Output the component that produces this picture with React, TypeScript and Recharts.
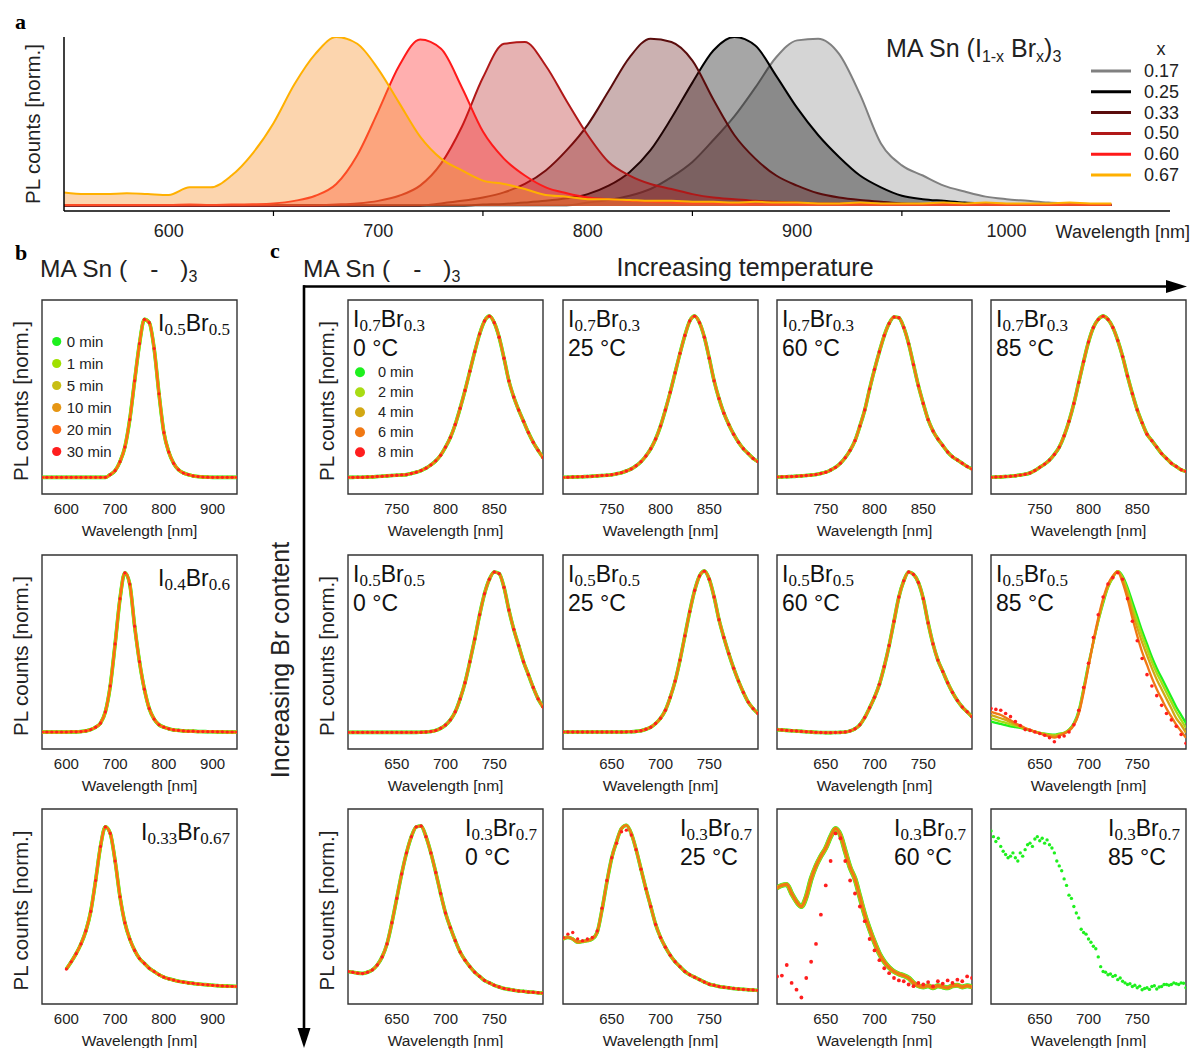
import React from "react";
import { AreaChart, Area, LineChart, Line, XAxis, YAxis, ReferenceArea } from "recharts";

const SANS = '"Liberation Sans", Arial, Helvetica, sans-serif';
const SERIF = '"Liberation Serif", "Times New Roman", serif';

// ---- panel a: MA Sn (I1-x Brx)3 spectra
const wlA = [550, 560, 570, 580, 590, 600, 610, 620, 630, 640, 650, 660, 670, 680, 690, 700, 710, 720, 730, 740, 750, 760, 770, 780, 790, 800, 810, 820, 830, 840, 850, 860, 870, 880, 890, 900, 910, 920, 930, 940, 950, 960, 970, 980, 990, 1000, 1010, 1020, 1030, 1040, 1050];
const xLabels = ["0.17", "0.25", "0.33", "0.50", "0.60", "0.67"];
const a017 = [.003, .003, .003, .003, .003, .003, .003, .003, .003, .003, .003, .003, .003, .003, .003, .003, .003, .003, .003, .003, .003, .003, .003, .003, .003, .02, .035, .06, .10, .17, .26, .39, .53, .70, .88, .98, .99, .90, .66, .37, .24, .18, .12, .085, .055, .04, .03, .02, .015, .01, .01];
const a025 = [.003, .003, .003, .003, .003, .003, .003, .003, .003, .003, .003, .003, .003, .003, .003, .003, .003, .003, .003, .003, .008, .012, .02, .03, .045, .07, .12, .20, .33, .52, .73, .92, 1.0, .95, .77, .58, .42, .29, .18, .11, .06, .04, .03, .02, .015, .01, .008, .007, .006, .005, .005];
const a033 = [.003, .003, .003, .003, .003, .003, .003, .003, .003, .003, .003, .003, .003, .003, .003, .003, .003, .003, .015, .03, .05, .08, .13, .21, .33, .48, .68, .88, .99, .97, .86, .63, .42, .28, .18, .12, .075, .05, .035, .025, .015, .012, .01, .008, .007, .006, .005, .005, .005, .005, .005];
const a050 = [.003, .003, .003, .003, .003, .003, .003, .003, .003, .003, .003, .003, .003, .008, .015, .03, .06, .12, .25, .47, .76, .96, .97, .83, .62, .42, .26, .18, .13, .10, .07, .05, .04, .03, .025, .02, .015, .015, .012, .01, .01, .008, .008, .006, .006, .005, .005, .005, .005, .005, .005];
const a060 = [.005, .005, .005, .005, .005, .005, .008, .005, .008, .01, .015, .03, .06, .13, .30, .56, .83, .985, .93, .70, .44, .28, .18, .11, .075, .05, .04, .03, .025, .02, .015, .015, .01, .01, .01, .01, .008, .008, .01, .008, .008, .008, .01, .008, .01, .008, .008, .008, .01, .008, .008];
const a067 = [.08, .07, .07, .075, .07, .065, .11, .11, .18, .31, .49, .72, .90, 1.0, .96, .81, .61, .41, .28, .21, .15, .13, .10, .065, .055, .04, .04, .035, .03, .03, .025, .025, .02, .025, .02, .02, .015, .015, .02, .015, .015, .015, .02, .015, .02, .015, .015, .015, .02, .015, .015];

const aLine = ["#808080", "#000000", "#5a0c0c", "#b01818", "#ff1a1a", "#ffb000"];
const aFill = ["#808080", "#000000", "#5c0b0b", "#b01010", "#ff1a1a", "#f79634"];
const aOpacity = [0.33, 0.35, 0.32, 0.32, 0.35, 0.4];
const aSeries = [a017, a025, a033, a050, a060, a067];
const aTicks = [600, 650, 700, 750, 800, 850, 900, 950, 1000];

// ---- panel b: time series at room temperature
const wlB = [550, 560, 570, 580, 590, 600, 610, 620, 630, 640, 650, 660, 670, 680, 690, 700, 710, 720, 730, 740, 750, 760, 770, 780, 790, 800, 810, 820, 830, 840, 850, 860, 870, 880, 890, 900, 910, 920, 930, 940, 950];
const bTicks = [600, 700, 800, 900];
const bTimes = ["0 min", "1 min", "5 min", "10 min", "20 min", "30 min"];
const bColors = ["#1ef01e", "#a0e000", "#c8be14", "#e69614", "#ff6a14", "#ff1e1e"];
const b05 = [.003, .003, .003, .003, .003, .003, .003, .003, .003, .003, .003, .003, .003, .003, .02, .045, .10, .19, .36, .60, .83, .98, .96, .80, .52, .28, .16, .09, .05, .03, .02, .012, .008, .005, .004, .003, .003, .003, .003, .003, .003];
const b06 = [.005, .005, .005, .005, .005, .005, .006, .006, .008, .012, .02, .035, .06, .13, .29, .55, .83, .99, .92, .66, .44, .27, .15, .085, .05, .035, .025, .018, .015, .012, .01, .01, .008, .008, .007, .007, .006, .006, .005, .005, .005];
const b067 = [null, null, null, null, null, .115, .16, .21, .27, .35, .47, .66, .87, .99, .95, .78, .56, .40, .30, .23, .18, .15, .12, .10, .08, .065, .055, .047, .04, .035, .03, .027, .023, .02, .018, .015, .013, .011, .01, .009, .008];

// ---- panel c: temperature / composition grid
const wlC1 = [700, 705, 710, 715, 720, 725, 730, 735, 740, 745, 750, 755, 760, 765, 770, 775, 780, 785, 790, 795, 800, 805, 810, 815, 820, 825, 830, 835, 840, 845, 850, 855, 860, 865, 870, 875, 880, 885, 890, 895, 900];
const wlC2 = [600, 605, 610, 615, 620, 625, 630, 635, 640, 645, 650, 655, 660, 665, 670, 675, 680, 685, 690, 695, 700, 705, 710, 715, 720, 725, 730, 735, 740, 745, 750, 755, 760, 765, 770, 775, 780, 785, 790, 795, 800];
const wlC2f = [600, 602.5, 605, 607.5, 610, 612.5, 615, 617.5, 620, 622.5, 625, 627.5, 630, 632.5, 635, 637.5, 640, 642.5, 645, 647.5, 650, 652.5, 655, 657.5, 660, 662.5, 665, 667.5, 670, 672.5, 675, 677.5, 680, 682.5, 685, 687.5, 690, 692.5, 695, 697.5, 700, 702.5, 705, 707.5, 710, 712.5, 715, 717.5, 720, 722.5, 725, 727.5, 730, 732.5, 735, 737.5, 740, 742.5, 745, 747.5, 750, 752.5, 755, 757.5, 760, 762.5, 765, 767.5, 770, 772.5, 775, 777.5, 780, 782.5, 785, 787.5, 790, 792.5, 795, 797.5, 800];
const c1Ticks = [750, 800, 850];
const c2Ticks = [650, 700, 750];
const temps = ["0 °C", "25 °C", "60 °C", "85 °C"];
const cTimes = ["0 min", "2 min", "4 min", "6 min", "8 min"];
const cColors = ["#1ef01e", "#a8dc14", "#d2a814", "#f07814", "#ff1e1e"];

// I0.7Br0.3
const c11 = [.003, .003, .004, .004, .005, .006, .008, .01, .012, .014, .016, .018, .02, .027, .035, .045, .06, .08, .105, .14, .19, .25, .33, .43, .54, .66, .78, .89, .97, 1.0, .96, .87, .74, .60, .50, .42, .35, .28, .22, .17, .125];
const c12 = [.003, .004, .005, .006, .007, .008, .01, .012, .014, .016, .019, .025, .032, .042, .055, .075, .10, .135, .18, .24, .32, .42, .53, .65, .77, .88, .97, 1.0, .96, .87, .74, .60, .49, .40, .33, .27, .22, .18, .15, .12, .10];
const c13 = [.005, .006, .007, .008, .01, .012, .014, .017, .021, .027, .035, .048, .065, .09, .125, .17, .23, .32, .42, .55, .67, .78, .88, .955, .995, .99, .93, .83, .70, .57, .46, .36, .29, .24, .20, .16, .13, .11, .09, .07, .055];
const c14 = [.004, .005, .006, .008, .01, .013, .017, .022, .03, .045, .065, .085, .11, .145, .19, .26, .35, .46, .59, .72, .84, .93, .98, 1.0, .98, .93, .85, .75, .63, .52, .42, .34, .27, .23, .19, .15, .12, .09, .07, .05, .04];
// I0.5Br0.5
const c21 = [.003, .003, .003, .003, .003, .003, .003, .003, .003, .003, .003, .003, .003, .003, .003, .004, .005, .008, .015, .028, .048, .08, .13, .21, .31, .44, .58, .73, .86, .95, .995, .985, .90, .76, .64, .54, .44, .36, .28, .21, .16];
const c22 = [.005, .005, .005, .005, .005, .005, .005, .005, .005, .005, .005, .005, .005, .006, .007, .009, .013, .022, .035, .058, .09, .14, .22, .32, .45, .60, .75, .88, .97, 1.0, .95, .84, .70, .59, .49, .40, .32, .25, .19, .15, .12];
const c23 = [.02, .018, .015, .013, .011, .009, .007, .005, .003, .002, .001, .001, .002, .003, .005, .012, .025, .05, .095, .155, .22, .30, .41, .54, .69, .84, .94, .995, .98, .93, .83, .68, .55, .45, .38, .31, .25, .20, .16, .13, .10];
const c24t0 = [.07, .062, .055, .048, .04, .035, .03, .022, .015, .008, 0, -.005, -.01, -.012, -.005, 0, .02, .06, .14, .28, .43, .56, .69, .80, .90, .96, 1.0, .97, .90, .81, .72, .63, .55, .47, .40, .34, .28, .22, .16, .11, .06];
const c24t2 = [.09, .08, .07, .062, .052, .044, .035, .025, .016, .008, 0, -.006, -.012, -.016, -.008, 0, .018, .055, .13, .27, .42, .56, .69, .81, .90, .96, 1.0, .96, .88, .78, .69, .60, .52, .44, .37, .31, .25, .19, .13, .08, .03];
const c24t4 = [.11, .10, .09, .08, .065, .052, .04, .028, .018, .008, -.002, -.01, -.016, -.02, -.012, -.002, .016, .05, .12, .26, .41, .56, .70, .82, .91, .97, 1.0, .95, .86, .75, .65, .56, .48, .40, .33, .27, .21, .15, .09, .05, 0];
const c24t6 = [.13, .12, .11, .095, .078, .06, .045, .03, .018, .006, -.004, -.014, -.022, -.03, -.018, -.004, .012, .048, .12, .25, .41, .57, .71, .83, .92, .97, .995, .93, .83, .71, .60, .50, .42, .34, .27, .21, .15, .10, .05, .01, -.03];
const c24t8 = [.15, .145, .14, .12, .10, .07, .045, .02, .015, .005, -.004, -.015, -.03, -.055, -.025, -.02, .005, .05, .14, .28, .43, .59, .73, .84, .92, .96, .99, .95, .83, .69, .57, .46, .36, .29, .23, .17, .12, .08, .04, -.01, -.065];
// I0.3Br0.7
const c31 = [.10, .095, .09, .088, .095, .11, .14, .19, .27, .40, .55, .70, .83, .93, .99, .995, .93, .83, .71, .58, .46, .37, .29, .22, .17, .13, .095, .07, .045, .03, .015, .005, -.005, -.01, -.015, -.02, -.022, -.026, -.028, -.031, -.033];
const c32 = [.30, .31, .30, .28, .285, .29, .30, .34, .48, .65, .80, .90, .98, 1.0, .95, .85, .73, .61, .50, .39, .31, .25, .20, .16, .13, .10, .08, .065, .05, .035, .022, .015, .008, .003, 0, -.005, -.008, -.01, -.012, -.014, -.016];
const c32r = [.31, .33, .34, .30, .29, .30, .31, .35, .49, .66, .80, .89, .96, .97, .94, .85, .73, .61, .50, .39, .31, .25, .20, .16, .13, .10, .08, .065, .05, .035, .022, .015, .008, .003, 0, -.005, -.008, -.01, -.012, -.014, -.016];
const c33 = [.615, .63, .636, .58, .53, .50, .56, .67, .75, .81, .86, .93, .98, .94, .84, .74, .67, .56, .45, .36, .28, .21, .16, .125, .10, .085, .075, .06, .03, .012, .005, .012, 0, .012, .005, 0, .012, .015, .005, .012, .005];
const c33r = [.07, .075, .14, .03, -.012, -.06, .06, .16, .27, .45, .63, .78, .95, .92, .78, .66, .58, .50, .41, .30, .23, .17, .12, .09, .06, .045, .04, .02, .01, .03, .02, .035, .01, .04, .025, .045, .03, .05, .04, .07, .06];
const c34g = [.965, .93, .90, .92, .87, .84, .82, .80, .81, .83, .80, .78, .83, .81, .85, .88, .89, .87, .915, .93, .905, .92, .89, .91, .88, .86, .83, .78, .75, .72, .67, .63, .57, .55, .50, .46, .43, .36, .34, .33, .30, .28, .255, .24, .19, .13, .10, .095, .08, .085, .07, .075, .05, .06, .04, .03, .02, .025, .008, .015, 0, .01, -.012, -.005, 0, -.01, .008, .012, -.008, .005, .008, .02, .02, .015, .02, .03, .025, .02, .03, .028, 0];

type S = { vals: (number | null)[]; color: string; w: number; r: number };

const bW = [3.6, 3.2, 2.8, 2.4, 2.0, 0];
const bR = [0, 0, 0, 0, 0, 1.6];
const cW = [3.6, 3.1, 2.6, 2.1, 0];
const cR = [0, 0, 0, 0, 1.7];

const stackB = (v: (number | null)[]): S[] => bColors.map((c, i) => ({ vals: v, color: c, w: bW[i], r: bR[i] }));
const stackC = (v: (number | null)[], red?: (number | null)[]): S[] =>
  cColors.map((c, i) => ({ vals: i === 4 && red ? red : v, color: c, w: cW[i], r: cR[i] }));

function Spec({ left, top, h, wl, domain, ticks, series }: { left: number; top: number; h: number; wl: number[]; domain: [number, number]; ticks: number[]; series: S[] }) {
  const data = wl.map((w, i) => {
    const r: any = { w };
    series.forEach((s, k) => (r["s" + k] = s.vals[i]));
    return r;
  });
  return (
    <div style={{ position: "absolute", left: left - 2, top: top - 2 }}>
      <LineChart width={199} height={h + 48} data={data} margin={{ top: 2, right: 2, bottom: 0, left: 2 }}>
        <XAxis
          dataKey="w"
          type="number"
          domain={domain}
          ticks={ticks}
          allowDataOverflow
          tickLine={false}
          axisLine={false}
          height={46}
          tickMargin={3}
          tick={{ fontSize: 15, fill: "#222" }}
          label={{ value: "Wavelength [nm]", position: "insideBottom", offset: 4, fontSize: 15.5, fill: "#222" }}
        />
        <YAxis hide type="number" domain={[-0.1, 1.1]} allowDataOverflow />
        {series.map((s, k) => (
          <Line
            key={k}
            dataKey={"s" + k}
            type="monotone"
            stroke={s.w ? s.color : "none"}
            strokeWidth={s.w || 0}
            dot={s.r ? { r: s.r, fill: s.color, stroke: "none" } : false}
            activeDot={false}
            isAnimationActive={false}
          />
        ))}
        <ReferenceArea x1={domain[0]} x2={domain[1]} y1={-0.1} y2={1.1} fill="none" stroke="#333" strokeWidth={1.4} ifOverflow="visible" />
      </LineChart>
    </div>
  );
}

function Comp({ x, y, a, b, anchor = "start" }: { x: number; y: number; a: string; b: string; anchor?: string }) {
  return (
    <text x={x} y={y} textAnchor={anchor as any} fontSize={23} fill="#111">
      I<tspan fontFamily={SERIF} fontSize={17} dy={4}>{a}</tspan>
      <tspan dy={-4}>Br</tspan>
      <tspan fontFamily={SERIF} fontSize={17} dy={4}>{b}</tspan>
    </text>
  );
}

const aTick = (p: any) => {
  const v = p.payload.value;
  if (v % 100 === 0)
    return (
      <text x={p.x} y={p.y + 26} textAnchor="middle" fontSize={18} fill="#222">
        {v}
      </text>
    );
  return <line x1={p.x} x2={p.x} y1={p.y} y2={p.y + 5} stroke="#000" strokeWidth={1.2} />;
};

const bLeft = 42;
const rowTop = [300, 555, 809];
const rowH = [194, 194, 195];
const cLeft = [348, 563, 777, 991];

export default function App() {
  const aRows = wlA.map((w, i) => {
    const r: any = { w };
    aSeries.forEach((s, k) => (r["s" + k] = s[i]));
    return r;
  });

  const cRow1 = [c11, c12, c13, c14];
  const cRow2: S[][] = [
    stackC(c21),
    stackC(c22),
    stackC(c23),
    [c24t0, c24t2, c24t4, c24t6, c24t8].map((v, i) => ({ vals: v, color: cColors[i], w: i < 4 ? 2.3 : 0, r: i === 4 ? 1.8 : 0 })),
  ];
  const cRow3: S[][] = [
    stackC(c31),
    stackC(c32, c32r),
    [
      { vals: c33, color: cColors[0], w: 5, r: 0 },
      { vals: c33, color: cColors[1], w: 4.2, r: 0 },
      { vals: c33, color: cColors[2], w: 3.4, r: 0 },
      { vals: c33, color: cColors[3], w: 2.6, r: 1.6 },
      { vals: c33r, color: cColors[4], w: 0, r: 1.9 },
    ],
  ];
  const bPanels = [b05, b06, b067];
  const bComp = [["0.5", "0.5"], ["0.4", "0.6"], ["0.33", "0.67"]];
  const rowComp = [["0.7", "0.3"], ["0.5", "0.5"], ["0.3", "0.7"]];

  return (
    <div style={{ position: "absolute", left: 0, top: 0, width: 1193, height: 1048, background: "#fff", fontFamily: SANS, color: "#222" }}>
      <div style={{ position: "absolute", left: 0, top: 0 }}>
        <AreaChart width={1193} height={250} data={aRows} margin={{ top: 37, right: 23, bottom: 0, left: 54 }}>
          <XAxis
            dataKey="w"
            type="number"
            domain={[550, 1078]}
            ticks={aTicks}
            allowDataOverflow
            height={39}
            tickLine={false}
            tickSize={0}
            tickMargin={0}
            tick={aTick}
            axisLine={{ stroke: "#000", strokeWidth: 1.5 }}
          />
          <YAxis width={10} type="number" domain={[-0.03, 1]} allowDataOverflow tick={false} tickLine={false} axisLine={{ stroke: "#000", strokeWidth: 1.5 }} />
          {aSeries.map((_, k) => (
            <Area
              key={k}
              dataKey={"s" + k}
              type="monotone"
              stroke={aLine[k]}
              strokeWidth={2}
              fill={aFill[k]}
              fillOpacity={aOpacity[k]}
              dot={false}
              activeDot={false}
              isAnimationActive={false}
            />
          ))}
        </AreaChart>
      </div>

      {bPanels.map((v, i) => (
        <Spec key={"b" + i} left={bLeft} top={rowTop[i]} h={rowH[i]} wl={wlB} domain={[550, 950]} ticks={bTicks} series={stackB(v)} />
      ))}

      {cRow1.map((v, j) => (
        <Spec key={"c1" + j} left={cLeft[j]} top={rowTop[0]} h={rowH[0]} wl={wlC1} domain={[700, 900]} ticks={c1Ticks} series={stackC(v)} />
      ))}
      {cRow2.map((s, j) => (
        <Spec key={"c2" + j} left={cLeft[j]} top={rowTop[1]} h={rowH[1]} wl={wlC2} domain={[600, 800]} ticks={c2Ticks} series={s} />
      ))}
      {cRow3.map((s, j) => (
        <Spec key={"c3" + j} left={cLeft[j]} top={rowTop[2]} h={rowH[2]} wl={wlC2} domain={[600, 800]} ticks={c2Ticks} series={s} />
      ))}
      <Spec left={cLeft[3]} top={rowTop[2]} h={rowH[2]} wl={wlC2f} domain={[600, 800]} ticks={c2Ticks} series={[{ vals: c34g, color: cColors[0], w: 0, r: 1.7 }]} />

      <svg width={1193} height={1048} style={{ position: "absolute", left: 0, top: 0, pointerEvents: "none", whiteSpace: "pre" }}>
        {/* panel letters */}
        <text x={15} y={29} fontFamily={SERIF} fontWeight="bold" fontSize={22} fill="#000">a</text>
        <text x={15} y={260} fontFamily={SERIF} fontWeight="bold" fontSize={22} fill="#000">b</text>
        <text x={270} y={258} fontFamily={SERIF} fontWeight="bold" fontSize={22} fill="#000">c</text>

        {/* panel a labels */}
        <text transform="translate(40,124) rotate(-90)" textAnchor="middle" fontSize={20.5} fill="#222">PL counts [norm.]</text>
        <text x={1190} y={237.5} textAnchor="end" fontSize={18} fill="#222">Wavelength [nm]</text>
        <text x={886} y={57} fontSize={25} fill="#222">
          MA Sn (I<tspan fontSize={16} dy={5}>1-x</tspan>
          <tspan dy={-5}> Br</tspan>
          <tspan fontSize={16} dy={5}>x</tspan>
          <tspan dy={-5}>)</tspan>
          <tspan fontSize={16} dy={5}>3</tspan>
        </text>
        <text x={1161} y={55} textAnchor="middle" fontSize={18} fill="#222">x</text>
        {xLabels.map((l, i) => (
          <g key={l}>
            <line x1={1091} x2={1131} y1={71 + 20.8 * i} y2={71 + 20.8 * i} stroke={aLine[i]} strokeWidth={3} />
            <text x={1144} y={71 + 20.8 * i} dominantBaseline="central" fontSize={18} fill="#222">{l}</text>
          </g>
        ))}

        {/* panel b / c titles */}
        {[40, 303].map((x) => (
          <text key={x} x={x} y={277} fontSize={24.5} fill="#222">
            MA Sn (<tspan dx={23}>-</tspan>
            <tspan dx={22}>)</tspan>
            <tspan fontSize={16} dy={5}>3</tspan>
          </text>
        ))}
        <text x={745} y={276} textAnchor="middle" fontSize={25} fill="#222">Increasing temperature</text>
        <text transform="translate(289,660) rotate(-90)" textAnchor="middle" fontSize={25} fill="#222">Increasing Br content</text>

        {/* arrows */}
        <line x1={303} y1={286.5} x2={1170} y2={286.5} stroke="#000" strokeWidth={2.6} />
        <polygon points="1166,280 1187,286.5 1166,293" fill="#000" />
        <line x1={304} y1={285.2} x2={304} y2={1032} stroke="#000" strokeWidth={2.6} />
        <polygon points="297.5,1028 304,1048 310.5,1028" fill="#000" />

        {/* y labels */}
        {rowTop.map((t, i) => (
          <g key={"yl" + i}>
            <text transform={`translate(28,${t + rowH[i] / 2 + 4}) rotate(-90)`} textAnchor="middle" fontSize={20.5} fill="#222">PL counts [norm.]</text>
            <text transform={`translate(334,${t + rowH[i] / 2 + 4}) rotate(-90)`} textAnchor="middle" fontSize={20.5} fill="#222">PL counts [norm.]</text>
          </g>
        ))}

        {/* b compositions + legend */}
        {bComp.map((c, i) => (
          <Comp key={"bc" + i} x={bLeft + 188} y={rowTop[i] + 31} a={c[0]} b={c[1]} anchor="end" />
        ))}
        {bTimes.map((t, i) => (
          <g key={t}>
            <circle cx={56.7} cy={341.5 + 22 * i} r={4.6} fill={bColors[i]} />
            <text x={66.7} y={341.5 + 22 * i} dominantBaseline="central" fontSize={15} fill="#222">{t}</text>
          </g>
        ))}

        {/* c compositions / temperatures */}
        {rowComp.map((c, i) =>
          cLeft.map((l, j) => {
            const x = i === 2 ? l + 117 : l + 5;
            return (
              <g key={"cc" + i + j}>
                <Comp x={x} y={rowTop[i] + 27} a={c[0]} b={c[1]} />
                <text x={x} y={rowTop[i] + 56} fontSize={23} fill="#111">{temps[j]}</text>
              </g>
            );
          })
        )}
        {cTimes.map((t, i) => (
          <g key={"ct" + t}>
            <circle cx={360} cy={372.3 + 20 * i} r={5} fill={cColors[i]} />
            <text x={378} y={372.3 + 20 * i} dominantBaseline="central" fontSize={14.5} fill="#222">{t}</text>
          </g>
        ))}
      </svg>
    </div>
  );
}
